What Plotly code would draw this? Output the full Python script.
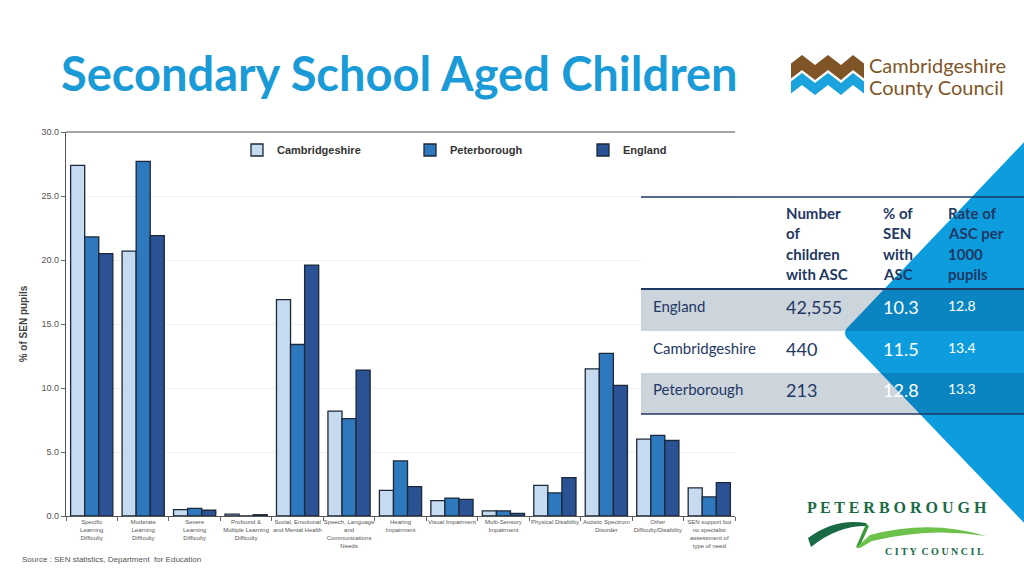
import plotly.graph_objects as go

# ---------------- data ----------------
categories = [
    "Specific<br>Learning<br>Difficulty",
    "Moderate<br>Learning<br>Difficulty",
    "Severe<br>Learning<br>Difficulty",
    "Profound &<br>Multiple Learning<br>Difficulty",
    "Social, Emotional<br>and Mental Health",
    "Speech, Language<br>and<br>Communications<br>Needs",
    "Hearing<br>Impairment",
    "Visual Impairment",
    "Multi-Sensory<br>Impairment",
    "Physical Disability",
    "Autistic Spectrum<br>Disorder",
    "Other<br>Difficulty/Disability",
    "SEN support but<br>no specialist<br>assessment of<br>type of need",
]
cambridgeshire = [27.4, 20.7, 0.5, 0.15, 16.9, 8.2, 2.0, 1.2, 0.4, 2.4, 11.5, 6.0, 2.2]
peterborough   = [21.8, 27.7, 0.6, 0.0, 13.4, 7.6, 4.3, 1.4, 0.4, 1.8, 12.7, 6.3, 1.5]
england        = [20.5, 21.9, 0.45, 0.1, 19.6, 11.4, 2.3, 1.3, 0.2, 3.0, 10.2, 5.9, 2.6]

series_names = ["Cambridgeshire", "Peterborough", "England"]
y_ticks = [0, 5, 10, 15, 20, 25, 30]

table_header = [
    ["Number", "of", "children", "with ASC"],
    ["% of", "SEN", "with", "ASC"],
    ["Rate of", "ASC per", "1000", "pupils"],
]
table_areas = ["England", "Cambridgeshire", "Peterborough"]
asc_numbers = ["42,555", "440", "213"]
asc_pct_sen = ["10.3", "11.5", "12.8"]
asc_rate = ["12.8", "13.4", "13.3"]

# ---------------- layout helpers (pixel -> paper) ----------------
L, R, T, B = 66, 735, 132, 516
W, H = 1024, 576


def px(x):
    return (x - L) / (R - L)


def py(y):
    return (B - y) / (B - T)


colors = ["#c6daf0", "#2e78bd", "#2b5294"]
outline = "#1c2839"

fig = go.Figure()
for name, vals, col in zip(series_names, [cambridgeshire, peterborough, england], colors):
    fig.add_trace(go.Bar(
        x=categories, y=vals, name=f"<b>{name}</b>",
        marker=dict(color=col, line=dict(color=outline, width=1.3)),
    ))

fig.update_layout(
    width=W, height=H,
    margin=dict(l=L, r=W - R, t=T, b=H - B, autoexpand=False),
    paper_bgcolor="white", plot_bgcolor="white",
    barmode="group", bargap=0.18, bargroupgap=0,
    font=dict(family="Liberation Sans, Arial", color="#444"),
    showlegend=True,
    legend=dict(
        orientation="h", x=px(237), y=py(150), xanchor="left", yanchor="middle",
        bgcolor="rgba(0,0,0,0)", font=dict(size=11, color="#333", family="Liberation Sans, Arial"),
        entrywidth=128, entrywidthmode="pixels", itemwidth=30,
        traceorder="normal",
    ),
)
fig.update_xaxes(
    type="category", range=[-0.5, 12.5],
    showline=True, linecolor="#555", linewidth=1.2,
    ticks="outside", tickson="boundaries", ticklen=4, tickcolor="#666",
    tickfont=dict(size=6, color="#555", family="Liberation Sans, Arial"),
    tickangle=0,
    showgrid=False,
)
fig.update_yaxes(
    range=[0, 30], tickvals=y_ticks, tickformat=".1f",
    showline=True, linecolor="#555", linewidth=1.2,
    ticks="outside", ticklen=4, tickcolor="#666",
    tickfont=dict(size=9, color="#555"),
    showgrid=True, gridcolor="#f1f1f1", gridwidth=1, zeroline=False,
    title=dict(text="<b>% of SEN pupils</b>", font=dict(size=10, color="#444"), standoff=12),
)

shapes = []
# top border line of chart
shapes.append(dict(type="line", xref="paper", yref="paper", x0=0, x1=1, y0=1, y1=1,
                   line=dict(color="#888", width=1.5), layer="above"))
# table white background (covers chart part)
shapes.append(dict(type="rect", xref="paper", yref="paper", x0=px(641), x1=px(1030),
                   y0=py(197), y1=py(414), fillcolor="white", line=dict(width=0), layer="above"))
# blue triangle
tri = (f"M {px(1030)},{py(136)} L {px(849)},{py(326)} Q {px(841)},{py(333)} {px(849)},{py(340)} "
       f"L {px(1030)},{py(529)} Z")
shapes.append(dict(type="path", xref="paper", yref="paper", path=tri,
                   fillcolor="#0d9ddf", line=dict(width=0), layer="above"))
# grey table rows (semi transparent)
for y0, y1 in [(289, 331), (373, 414)]:
    shapes.append(dict(type="rect", xref="paper", yref="paper", x0=px(641), x1=px(1030),
                       y0=py(y0), y1=py(y1), fillcolor="rgba(0,40,80,0.2)",
                       line=dict(width=0), layer="above"))
# table lines
for yy, wdt in [(197, 1.5), (289, 2), (414, 1.5)]:
    shapes.append(dict(type="line", xref="paper", yref="paper", x0=px(641), x1=px(1030),
                       y0=py(yy), y1=py(yy), line=dict(color="#1f3864", width=wdt), layer="above"))

# Cambridgeshire logo zigzags
zx = [791, 802, 815, 828, 841, 853, 864]
zo = [8.5, 0, 10, 0, 10, 0, 8.5]


def zig(top, bottom):
    pts = [(x, top + o) for x, o in zip(zx, zo)] + [(x, bottom + o) for x, o in zip(zx[::-1], zo[::-1])]
    return "M " + " L ".join(f"{px(a)},{py(b)}" for a, b in pts) + " Z"


shapes.append(dict(type="path", xref="paper", yref="paper", path=zig(55, 70),
                   fillcolor="#7f5528", line=dict(width=0), layer="above"))
shapes.append(dict(type="path", xref="paper", yref="paper", path=zig(73, 85),
                   fillcolor="#1aa3dc", line=dict(width=0), layer="above"))

# Peterborough logo swooshes
dark = (f"M {px(808)},{py(538)} Q {px(835)},{py(518)} {px(866)},{py(523)} L {px(868)},{py(526)} "
        f"Q {px(838)},{py(525)} {px(811)},{py(547)} Z")
shapes.append(dict(type="path", xref="paper", yref="paper", path=dark,
                   fillcolor="#1a6b45", line=dict(width=0), layer="above"))
link = (f"M {px(866)},{py(524)} L {px(869)},{py(526)} L {px(860)},{py(546)} L {px(856)},{py(547)} Z")
shapes.append(dict(type="path", xref="paper", yref="paper", path=link,
                   fillcolor="#3b9a3e", line=dict(width=0), layer="above"))
light = (f"M {px(856)},{py(548)} L {px(870)},{py(535)} Q {px(930)},{py(519)} {px(986)},{py(536)} "
         f"Q {px(930)},{py(527)} {px(872)},{py(541)} L {px(860)},{py(548)} Z")
shapes.append(dict(type="path", xref="paper", yref="paper", path=light,
                   fillcolor="#6cc24a", line=dict(width=0), layer="above"))

fig.update_layout(shapes=shapes)

ann = []


def text(x, y, s, size, color, family="Lato", xanchor="left", yanchor="middle", bold=False):
    ann.append(dict(xref="paper", yref="paper", x=px(x), y=py(y), text=(f"<b>{s}</b>" if bold else s),
                    showarrow=False, xanchor=xanchor, yanchor=yanchor,
                    font=dict(size=size, color=color, family=family)))


# title
text(59, 73, "Secondary School Aged Children", 47, "#1a9bd7", bold=True)
# Cambridgeshire logo text
text(867, 65, "Cambridgeshire", 20, "#7f5528", family="Lato")
text(867, 87, "County Council", 20, "#7f5528", family="Lato")
# Peterborough logo text
text(897, 507, "P E T E R B O R O U G H", 16, "#1a6b45", family="Liberation Serif",
     xanchor="center", bold=True)
text(934, 551, "C I T Y  C O U N C I L", 10, "#1a6b45", family="Liberation Serif",
     xanchor="center", bold=True)
# source
text(20, 559, "Source : SEN statistics, Department  for Education", 8, "#555",
     family="Liberation Sans, Arial")

# table header
col_x = [784, 881, 946]
line_y = [213, 233, 254, 274]
for cx, lines in zip(col_x, table_header):
    for ly, s in zip(line_y, lines):
        text(cx, ly, s, 15, "#1f3864", bold=True)
row_y = [307, 349, 390]
for ry, area, n, p, r in zip(row_y, table_areas, asc_numbers, asc_pct_sen, asc_rate):
    text(651, ry - 1, area, 15, "#1f3864")
    text(784, ry, n, 18, "#1f3864")
    text(881, ry, p, 18, "white")
    text(946, ry - 2, r, 14, "white")

fig.update_layout(annotations=ann)

fig.write_html("out.html", config={"displayModeBar": False},
               post_script="document.body.style.margin='0px';document.body.style.overflow='hidden';")
